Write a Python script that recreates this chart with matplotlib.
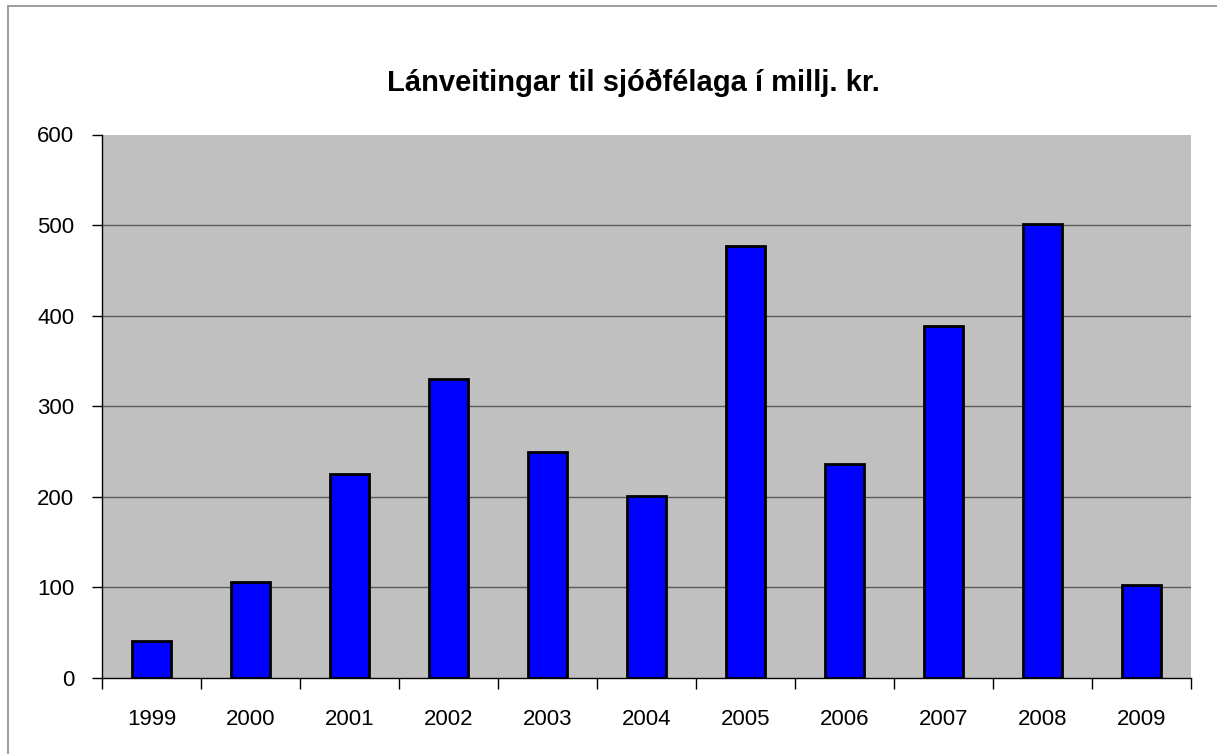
import matplotlib
matplotlib.use("Agg")
from matplotlib import pyplot as plt
from matplotlib.patches import Rectangle
import numpy as np

years = ["1999", "2000", "2001", "2002", "2003", "2004",
         "2005", "2006", "2007", "2008", "2009"]
loans = [41, 106, 225, 330, 249, 201, 477, 236, 389, 501, 103]
y_ticks = [0, 100, 200, 300, 400, 500, 600]
title = "Lánveitingar til sjóðfélaga í millj. kr."

plt.rcParams['font.family'] = ['Liberation Sans', 'DejaVu Sans']

fig = plt.figure(figsize=(12.17, 7.54), dpi=100)
ax = fig.add_axes([102 / 1217, 1 - 678 / 754, 1089 / 1217, 543.5 / 754])

# chart border like the Excel chart area
fig.patches.append(Rectangle((7.5 / 1217, -0.1), 1.2, 1 - 6.5 / 754 + 0.1,
                             transform=fig.transFigure, fill=False,
                             edgecolor='#8c8c8c', lw=1.2))

x = np.arange(len(years))
ax.set_facecolor('#c0c0c0')
ax.set_xlim(-0.5, len(years) - 0.5)
ax.set_ylim(0, 600)

# gridlines only inside the plot (none on the top edge)
ax.hlines(y_ticks[1:-1], -0.5, len(years) - 0.5, color='#5a5a5a', lw=1, zorder=1)
ax.bar(x, loans, width=0.4, color='#0000ff', edgecolor='black', lw=2, zorder=3)

ax.set_yticks(y_ticks)

# category boundaries carry the x ticks
ax.set_xticks(np.arange(len(years) + 1) - 0.5)
ax.set_xticklabels([])
ax.set_xticks(x, minor=True)
ax.set_xticklabels(years, minor=True)
ax.tick_params(axis='x', which='minor', length=0, pad=22, labelsize=16)
ax.tick_params(axis='x', which='major', length=8, width=1, color='black')
ax.tick_params(axis='y', length=7, width=1, pad=13, labelsize=16)

for s in ['top', 'right']:
    ax.spines[s].set_visible(False)
for s in ['left', 'bottom']:
    ax.spines[s].set_color('black')
    ax.spines[s].set_linewidth(1)

fig.text(633 / 1217, 1 - 91 / 754, title, ha='center', va='baseline',
         fontsize=21, fontweight='bold')

fig.savefig("out.png", dpi=100)
